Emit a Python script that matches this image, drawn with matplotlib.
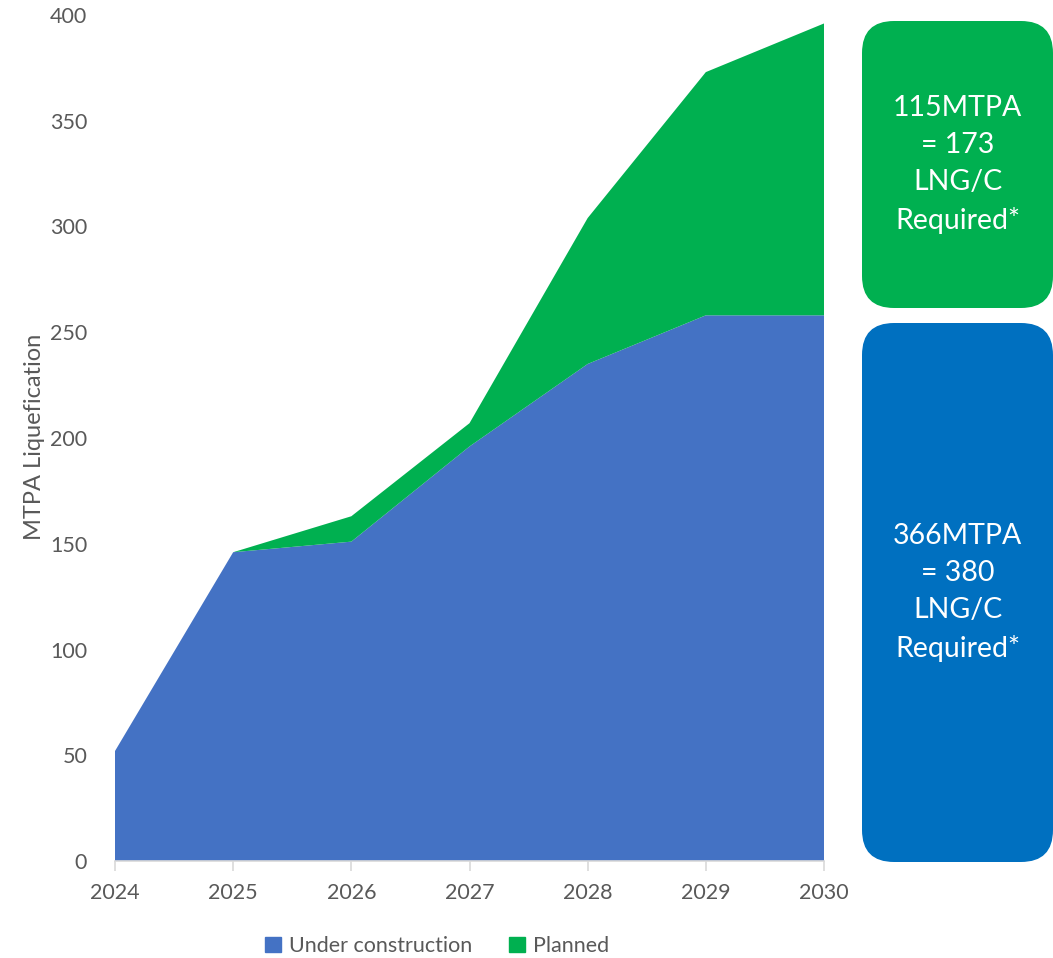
import matplotlib.pyplot as plt
from matplotlib.patches import FancyBboxPatch, Patch

plt.rcParams['font.family'] = ['Lato', 'DejaVu Sans']

years = [2024, 2025, 2026, 2027, 2028, 2029, 2030]
under_construction = [52, 146, 151, 196, 235, 258, 258]
planned = [0, 0, 12, 11, 69, 115, 138]
series_names = ["Under construction", "Planned"]
box_texts = ["115MTPA\n= 173\nLNG/C\nRequired*", "366MTPA\n= 380\nLNG/C\nRequired*"]

blue = "#4472C4"
green = "#00B050"
box_blue = "#0070C0"
grey_text = "#595959"
axis_grey = "#D9D9D9"

W, H = 1053, 958
fig = plt.figure(figsize=(W / 100, H / 100), dpi=100)
ax = fig.add_axes([115 / W, 1 - 861 / H, (824 - 115) / W, (861 - 15) / H])

ax.stackplot(years, under_construction, planned, colors=[blue, green],
             linewidth=0, labels=series_names)
ax.set_xlim(2024, 2030)
ax.set_ylim(0, 400)
ax.set_xticks(years)
ax.set_yticks(range(0, 401, 50))

for s in ["top", "right", "left"]:
    ax.spines[s].set_visible(False)
ax.spines["bottom"].set_color(axis_grey)
ax.spines["bottom"].set_linewidth(1.2)
ax.tick_params(axis="x", colors=axis_grey, length=7, width=1.2,
               labelcolor=grey_text, labelsize=15.5, pad=9)
ax.tick_params(axis="y", length=0, labelcolor=grey_text, labelsize=15.5, pad=20)

fig.text(35 / W, 1 - 437 / H, "MTPA Liquefication", color=grey_text, fontsize=17,
         rotation=90, ha="center", va="center")

handles = [Patch(color=blue), Patch(color=green)]
fig.legend(handles, series_names, loc="center", bbox_to_anchor=(437 / W, 1 - 946 / H),
           ncol=2, frameon=False, fontsize=15.5, labelcolor=grey_text,
           handlelength=0.75, handleheight=0.75, handletextpad=0.35, columnspacing=1.7)

# side callouts: green for planned, blue for under construction
boxes = [(862, 21, 1053, 308, green), (862, 323, 1053, 862, box_blue)]
for (x0, y0, x1, y1, col), txt in zip(boxes, box_texts):
    r = 32
    # pixel coords measured from the top-left corner, flipped to display coords
    patch = FancyBboxPatch((x0 + r, H - y1 + r), (x1 - x0) - 2 * r, (y1 - y0) - 2 * r,
                           boxstyle=f"round,pad={r},rounding_size={r}",
                           transform=None, facecolor=col, edgecolor="none")
    fig.patches.append(patch)
    fig.text((x0 + x1) / 2 / W, 1 - (y0 + y1) / 2 / H, txt, color="white",
             fontsize=20.5, ha="center", va="center", linespacing=1.52)

fig.savefig("out.png", dpi=100)
